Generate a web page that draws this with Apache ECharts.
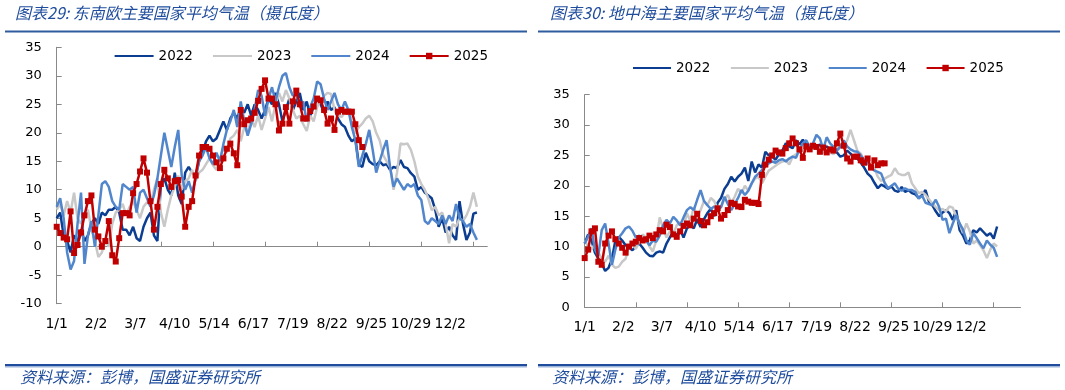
<!DOCTYPE html>
<html><head><meta charset="utf-8">
<script src="https://cdn.jsdelivr.net/npm/echarts@6/dist/echarts.min.js"></script>
<style>html,body{margin:0;padding:0;background:#fff}#c{width:1065px;height:390px}</style>
</head><body><div id="c"></div>
<script>
// x positions are day-of-year indices; each series value is sampled every STEP days
const STEP = 3;
const tickLabels = ['1/1','2/2','3/7','4/10','5/14','6/17','7/19','8/22','9/25','10/29','12/2'];
const labelDays = [0,34,68,102,136,170,204,238,272,306,340];
const tickDays = [0,45,90,135,180,225,270,315,360];
const names = ['2022','2023','2024','2025'];

// 东南欧 (left chart)
const se2022 = [5,6,2,1,-1,2,1,3,1,2,
 4,5,4,6,5.5,6.5,6.5,7,6,3,
 3,2,3.5,1.5,1,3.5,5,6,2,1,
 11,12,10,9,13,9,7.5,13,14,13,
 12.5,15,16.5,18.5,19.5,18.5,19,20.5,22,20.5,
 22.5,23.5,22.5,24.5,23.5,25,23,25,24,22.5,
 24,26,25,27,25,22,24,26,24,25.5,
 27,24,25.5,23,24.5,26,25,23.5,25.5,24,
 24.5,22.5,21.5,21,19.5,18.5,19,14.5,14,16.5,
 15,14.5,14.3,15,14.3,14.5,13.5,14,13.8,15.2,
 14,13.8,12.9,12.3,10,10.5,9.5,9,8.5,6.5,
 3.5,5,2.5,3.5,2,1.2,8,4,1.2,2.5,
 5.8,6];
const se2023 = [6.5,7.5,5.5,8,6,9.5,5,4,5.5,6.5,
 3,1,-1.8,-1,1,0,4,6,6.5,7.5,
 5.5,7,8,6.5,5,7,7.8,7.5,10,12,
 6,3.5,6.5,9,10.5,12.5,10,11.5,12,13.5,
 11.5,13,13.5,14.5,15.5,14.3,13.5,15,17.5,16.5,
 19,19.5,20.5,18.5,21,20,22.5,21,23,20.5,
 22.5,24.5,22,25,27,25.5,27.5,26,24,22.5,
 23,21.5,20.3,23,22,24.5,25.8,26.5,27,26.8,
 24,23,22.8,23.5,24,22,19.9,21,21.6,22.5,
 23,22,20,18.7,16.1,15,14,10,13,18.1,
 18,18.1,17,15,12.3,11,10,8.5,6.4,7,
 5.5,6,4,0.6,4,3.5,5,4.5,5.5,7,
 9.5,7];
const se2024 = [7,8.5,5,-1,-4,-2.5,4,9.5,-3,2,
 4.5,0,5.5,11,11.5,10.5,8,7,6.5,11,
 10.5,10,10.5,6,9.5,10,8.5,7,9,12,
 16,20,17,14,17.5,20.5,12.5,10,11.5,9.5,
 12,15,16,17.5,15.5,14.5,16.5,15,18,20.5,
 22,24,21,25.5,22,19.5,21.5,24,27.5,26.5,
 23,26,28,25.5,28,30,30.5,28,26.5,27,
 24.5,25.5,22,24.5,26,29,28.5,26,24,25.5,
 27,25,24,25.5,24,21,18.7,14,16,18,
 20.5,17,13,15,17,18.7,14,10.5,12,11,
 10,11,10.5,11,9,8.2,4.5,4,5,4.5,
 4,5.5,4,5.5,4.5,7.5,5,4.5,3.5,4,
 2.5,1.2];
const se2025 = [3.5,2.4,1.6,1.3,6.2,-1.1,0.3,2.5,5.5,8,
 9,3,1.8,0,1,4.5,-1.5,-2.6,1.5,5.9,
 5.9,5.5,9.4,11,13.2,15.5,13,8,3,7,
 11,13.5,12,10.5,11.5,11.7,8.8,3.5,7,8,
 12.5,16,17.5,17.5,17.2,16,14.8,13.8,15.5,17.2,
 18.1,16.4,14.3,24,21.5,22.2,22.5,23.5,25.6,27.7,
 29.2,26,26,25,20.4,21.6,24.5,21.6,25.5,27.4,
 25,22.5,22.5,23.8,24.6,26,25.7,24,21.6,22.5,
 20.5,23.7,24,23.7,23.7,23.7,21.5,18.7,17.5];

// 地中海 (right chart)
const md2022 = [10.5,12,11,9,8,7.2,6,6.5,8,11,
 11.6,11,10.2,9.8,9.4,10,10.5,9.8,9,8.5,
 8.4,9,9.2,9,10.5,11.5,12.5,11.8,12.8,11.5,
 13,13.5,13,14.5,13.2,14.5,15.5,16.2,15,17.2,
 18,19.5,20.3,21.5,20.7,21.5,22,23,20.8,24,
 22.2,23.5,23,25.6,25,24.8,24.3,25.2,25.8,27,
 26.5,26.2,27.5,26.8,27.6,26.8,26.4,26.2,26.4,26.8,
 26,26.5,25.9,26.2,25.5,24.8,25,25.8,25.3,24.6,
 24.5,23.8,23,22,21.5,20.5,19.6,20.2,19.9,19.5,
 19.9,19.2,19,19.8,19,19.3,18.8,18.6,18,18.5,
 19.3,17.4,16.8,15.8,15,15.6,16,15.5,14.4,16,
 12.7,11.8,10.5,11,12.7,12.3,13,12.4,11.8,12.2,
 11.3,13.3];
const md2023 = [11,10,9.5,10.5,9,8,7.5,8.5,7,6.5,
 6.7,7.5,8,10,10.5,9.6,10.8,12,11.5,10,
 9.2,11,14.8,13,11.5,12.5,12,13.5,14,13.2,
 15.5,14.2,16.5,15,16,17.5,16.8,18,17.5,16.2,
 16.5,17.8,18.5,17.2,18.2,19.5,18.8,20,19.2,20.4,
 21.2,21.5,20.4,21.5,22.5,22.9,23.3,23.7,24,24.2,
 23.5,24.8,25.2,25.6,25.8,26.2,25.8,26.2,26.5,25.8,
 25.4,26,25.5,25.2,26,26.8,26.5,27.5,29.2,27.5,
 25.8,25.3,24.2,23.7,23.2,22.9,21.5,20.8,21.2,21.5,
 21.8,22.9,22,21.8,21.8,22.2,20.4,19.6,18.8,19,
 18.5,17.8,17.1,16.5,16,16.2,15.8,16.6,16.4,15,
 13.8,12.2,13.8,12.5,10.5,11,10.2,9.4,8.1,9.5,
 10.5,10];
const md2024 = [10.5,11.6,13,9.5,8.5,12.7,13.8,10.5,7,9.5,
 11.5,12.2,13,13.3,12.6,11.5,11.8,11.2,11,10.2,
 11,10.8,11.8,13.5,14.4,13.8,14.9,14.3,13.5,14.8,
 16,16.5,16,17.7,19.3,17.5,16.8,16.2,16.6,16,
 16.5,18.2,17,16,17,18,19.3,18.5,19.2,20.4,
 21.5,22,22.6,23.2,23.7,24,23.8,24.2,24.4,24,
 24.5,24.8,24.6,26,27,27.5,26.4,27,28.4,27.8,
 26,28,27,26.4,25.8,26.4,27.5,26.5,26,25.7,
 25.6,25,24.2,23.8,23,22.5,22.3,22,20.5,19.6,
 20,20.4,19.5,19.2,19.6,19.3,19.3,19,17.9,18.4,
 17.2,17,16.8,17.7,16.5,14.4,14.6,12.2,13.8,15.2,
 13.8,12.8,11,10.3,12.2,11.4,10.5,9.7,11,10.3,
 9.8,8.3];
const md2025 = [8.1,9.5,12.5,13,7.5,7,10.5,11.8,12.5,11.2,
 10.5,9.8,9,10,10.5,10.8,11.4,11,11.2,11.8,
 11.4,12,12.7,12.5,13.6,13.2,12,11.6,12.5,13.4,
 13.8,13.5,14.6,15.4,14.2,13.5,14,15,15.5,16.3,
 14.6,15.2,16,17.2,17,16.6,16.5,17.7,17.4,17.2,
 17.2,17,21.8,23.5,24.3,25,25.8,25.5,25.3,26.2,
 27,27.8,27,26,24.6,26.5,26,26.6,26.4,25.6,
 26.3,25.5,26,25.8,27,28.6,26.6,24.5,24,24.8,
 24.8,24.2,23.8,24.5,23,24.2,23.4,23.7,23.7];

const colors = {'2022':'#0B3D91','2023':'#C8C8C8','2024':'#5186CC','2025':'#C00000'};
const toPts = vals => vals.map((v,i)=>[i*STEP, v]);
function mk(name, vals, gi) {
  const red = name === '2025';
  return {
    name, type:'line', xAxisIndex: gi === 0 ? 0 : 2, yAxisIndex: gi,
    data: toPts(vals),
    symbol: red ? 'rect' : 'none', symbolSize: 6, showSymbol: red,
    lineStyle:{color:colors[name], width:2.5},
    itemStyle:{color:colors[name]},
    z: red ? 5 : 2, animation:false
  };
}
const FONT = 'DejaVu Sans';
const axisCol = '#898989';
const lblFmt = v => { const k = labelDays.indexOf(Math.round(v)); return k >= 0 ? tickLabels[k] : ''; };
const TXT = '#1F4C9C';
const legendItems = names.map(n => n === '2025' ? {name:n} :
  {name:n, itemStyle:{color:'rgba(0,0,0,0)', opacity:0, borderWidth:0}});

const chart = echarts.init(document.getElementById('c'), null, {renderer:'canvas'});
chart.setOption({
  animation:false,
  backgroundColor:'#fff',
  textStyle:{fontFamily:FONT},
  grid:[
    {left:56.7, top:47.3, width:430.6, height:256.4},
    {left:584.7, top:94.7, width:435.8, height:212.6}
  ],
  legend:[
    {data:legendItems, left:108.6, top:44, itemWidth:39, itemHeight:8, itemGap:19,
     textStyle:{fontFamily:FONT, fontSize:13.5, color:'#000'}},
    {data:legendItems, left:627, top:56, itemWidth:38, itemHeight:8, itemGap:19.5,
     textStyle:{fontFamily:FONT, fontSize:13.5, color:'#000'}}
  ],
  xAxis:[
    {gridIndex:0, type:'value', min:0, max:372,
     axisLine:{show:true, onZero:true, lineStyle:{color:axisCol, width:1}},
     axisTick:{show:true, inside:true, length:5, customValues:tickDays, lineStyle:{color:axisCol}},
     axisLabel:{show:false}, splitLine:{show:false}},
    {gridIndex:0, type:'value', min:0, max:372, position:'bottom',
     axisLine:{show:false, onZero:false}, axisTick:{show:false}, splitLine:{show:false},
     axisLabel:{show:true, customValues:labelDays, formatter:lblFmt, margin:14,
       fontFamily:FONT, fontSize:14, color:'#000'}},
    {gridIndex:1, type:'value', min:0, max:383.6,
     axisLine:{show:true, onZero:false, lineStyle:{color:axisCol, width:1}},
     axisTick:{show:true, inside:true, length:5, customValues:tickDays, lineStyle:{color:axisCol}},
     splitLine:{show:false},
     axisLabel:{show:true, customValues:labelDays, formatter:lblFmt, margin:13,
       fontFamily:FONT, fontSize:14, color:'#000'}}
  ],
  yAxis:[
    {gridIndex:0, type:'value', min:-10, max:35, interval:5,
     axisLine:{show:true, lineStyle:{color:axisCol}},
     axisTick:{show:true, inside:true, length:5, lineStyle:{color:axisCol}},
     splitLine:{show:false},
     axisLabel:{margin:15, fontFamily:FONT, fontSize:13, color:'#000'}},
    {gridIndex:1, type:'value', min:0, max:35, interval:5,
     axisLine:{show:true, lineStyle:{color:axisCol}},
     axisTick:{show:true, inside:true, length:5, lineStyle:{color:axisCol}},
     splitLine:{show:false},
     axisLabel:{margin:15, fontFamily:FONT, fontSize:13, color:'#000'}}
  ],
  series:[
    mk('2022', se2022, 0), mk('2023', se2023, 0), mk('2024', se2024, 0), mk('2025', se2025, 0),
    mk('2022', md2022, 1), mk('2023', md2023, 1), mk('2024', md2024, 1), mk('2025', md2025, 1)
  ],
  graphic:[
    {type:'text', x:15, y:5, style:{text:'图表29: 东南欧主要国家平均气温（摄氏度）', fill:TXT,
      font:'italic 16px "Noto Sans CJK SC"'}},
    {type:'text', x:550, y:5, style:{text:'图表30: 地中海主要国家平均气温（摄氏度）', fill:TXT,
      font:'italic 16px "Noto Sans CJK SC"'}},
    {type:'rect', shape:{x:5, y:30.5, width:522, height:2}, style:{fill:'#2E5C9E'}},
    {type:'rect', shape:{x:538, y:30.5, width:522, height:2}, style:{fill:'#2E5C9E'}},
    {type:'rect', shape:{x:5, y:364, width:522, height:2}, style:{fill:'#1F4C9C'}},
    {type:'rect', shape:{x:5, y:366, width:522, height:1.5}, style:{fill:'#9DB3D9'}},
    {type:'rect', shape:{x:538, y:364, width:522, height:2}, style:{fill:'#1F4C9C'}},
    {type:'rect', shape:{x:538, y:366, width:522, height:1.5}, style:{fill:'#9DB3D9'}},
    {type:'text', x:20, y:369, style:{text:'资料来源：彭博，国盛证券研究所', fill:TXT,
      font:'italic 16px "Noto Sans CJK SC"'}},
    {type:'text', x:552, y:369, style:{text:'资料来源：彭博，国盛证券研究所', fill:TXT,
      font:'italic 16px "Noto Sans CJK SC"'}}
  ]
});
</script>
</body></html>
